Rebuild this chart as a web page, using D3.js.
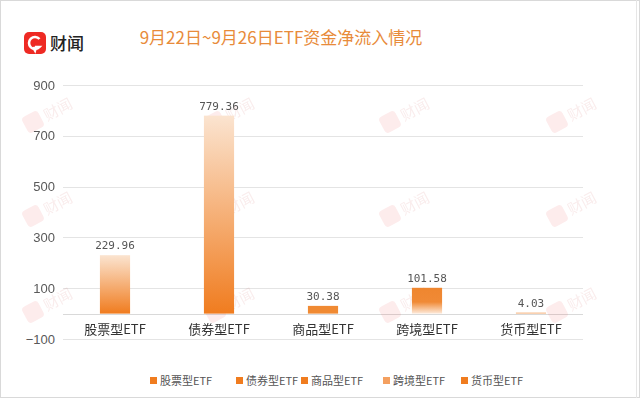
<!DOCTYPE html>
<html>
<head>
<meta charset="utf-8">
<script src="https://cdn.jsdelivr.net/npm/d3@7"></script>
<style>
  body { margin: 0; background: #fff; }
  svg { display: block; }
</style>
</head>
<body>
<div id="chart"></div>
<script>
const title = '9月22日~9月26日ETF资金净流入情况'
const categories = ['股票型ETF', '债券型ETF', '商品型ETF', '跨境型ETF', '货币型ETF']
const values = [229.96, 779.36, 30.38, 101.58, 4.03]
const labels = ['229.96', '779.36', '30.38', '101.58', '4.03']
const yTicks = [-100, 100, 300, 500, 700, 900]

const W = 640, H = 398
const svg = d3.select('#chart').append('svg').attr('width', W).attr('height', H)

// gradients: light top -> orange bottom, and the reversed one for 跨境型
const defs = svg.append('defs')
const gUp = defs.append('linearGradient').attr('id', 'gUp').attr('x1', 0).attr('y1', 0).attr('x2', 0).attr('y2', 1)
gUp.append('stop').attr('offset', '0%').attr('stop-color', '#fbe4d0')
gUp.append('stop').attr('offset', '100%').attr('stop-color', '#f07c1f')
const gDown = defs.append('linearGradient').attr('id', 'gDown').attr('x1', 0).attr('y1', 0).attr('x2', 0).attr('y2', 1)
gDown.append('stop').attr('offset', '0%').attr('stop-color', '#ef862f')
gDown.append('stop').attr('offset', '55%').attr('stop-color', '#f08a36')
gDown.append('stop').attr('offset', '100%').attr('stop-color', '#fde9d9')
const fills = ['url(#gUp)', 'url(#gUp)', '#f08a33', 'url(#gDown)', '#f6b47e']

// frame
svg.append('rect').attr('x', 0.5).attr('y', 0.5).attr('width', W - 1).attr('height', H - 1)
  .attr('fill', 'none').attr('stroke', '#d9d9d9')
svg.append('line').attr('x1', 636.5).attr('x2', 636.5).attr('y1', 0).attr('y2', H)
  .attr('stroke', '#e6e6e6')

// logo
const logo = svg.append('g').attr('transform', 'translate(24,32)')
logo.append('rect').attr('width', 22).attr('height', 22).attr('rx', 5).attr('fill', '#ee2a24')
logo.append('path').attr('d', 'M15.5,7 A6,6 0 1 0 15.5,15 L12,15 L11,18.5 L9,15.2')
  .attr('fill', 'none').attr('stroke', '#fff').attr('stroke-width', 2.6)
svg.append('text').attr('x', 50).attr('y', 50).attr('font-size', 17)
  .attr('font-family', 'Noto Sans CJK SC').attr('font-weight', 500).attr('fill', '#222').text('财闻')

// title
svg.append('text').attr('x', 281).attr('y', 44).attr('text-anchor', 'middle')
  .attr('font-size', 17).attr('font-family', 'Noto Sans CJK SC').attr('fill', '#e88b3a')
  .text(title)

const x = d3.scaleBand().domain(categories).range([63, 583]).paddingInner(0.71).paddingOuter(0.355)
const y = d3.scaleLinear().domain([-100, 900]).range([339, 85])

// grid
svg.append('g').selectAll('line').data(yTicks.concat([0])).join('line')
  .attr('x1', 63).attr('x2', 583)
  .attr('y1', d => Math.round(y(d)) + 0.5).attr('y2', d => Math.round(y(d)) + 0.5)
  .attr('stroke', d => d === 0 ? '#d9d9d9' : '#e4e4e4')

// watermarks
const wmX = [48, 230, 405, 572]
const wmY = [114, 208, 304]
const wm = svg.append('g').attr('opacity', 0.09)
wmX.forEach(wx => wmY.forEach(wy => {
  const g = wm.append('g').attr('transform', `translate(${wx},${wy}) rotate(-28)`)
  g.append('rect').attr('x', -26).attr('y', -9).attr('width', 18).attr('height', 18).attr('rx', 4).attr('fill', '#e8262a')
  g.append('text').attr('x', -4).attr('y', 6).attr('font-size', 15)
    .attr('font-family', 'Noto Sans CJK SC').attr('fill', '#c03030').text('财闻')
}))

// y axis
const yAxis = d3.axisLeft(y).tickValues(yTicks).tickSize(0).tickPadding(8)
  .tickFormat(d => d < 0 ? '\u2212' + Math.abs(d) : d)
svg.append('g').attr('transform', 'translate(63,0)').call(yAxis)
  .call(g => g.select('.domain').remove())
  .selectAll('text').attr('font-size', 13).attr('font-family', 'Liberation Sans').attr('fill', '#595959')

// bars
svg.append('g').selectAll('rect').data(values).join('rect')
  .attr('x', (d, i) => x(categories[i]))
  .attr('width', x.bandwidth())
  .attr('y', d => y(d))
  .attr('height', d => Math.max(1, y(0) - y(d)))
  .attr('fill', (d, i) => fills[i])

// value labels
svg.append('g').selectAll('text').data(values).join('text')
  .attr('x', (d, i) => x(categories[i]) + x.bandwidth() / 2)
  .attr('y', d => y(d) - 6)
  .attr('text-anchor', 'middle').attr('font-size', 11)
  .attr('font-family', 'DejaVu Sans Mono').attr('fill', '#555')
  .text((d, i) => labels[i])

// category labels
svg.append('g').selectAll('text').data(categories).join('text')
  .attr('x', d => x(d) + x.bandwidth() / 2)
  .attr('y', 334)
  .attr('text-anchor', 'middle').attr('font-size', 13)
  .attr('font-family', 'Noto Sans CJK SC').attr('fill', '#333')
  .text(d => d)

// legend
const legendX = [150, 236, 301, 383, 461]
const legendFills = ['#f07c1f', '#f07c1f', '#f07c1f', '#f4a060', '#f07c1f']
const leg = svg.append('g').selectAll('g').data(categories).join('g')
  .attr('transform', (d, i) => `translate(${legendX[i]},381)`)
leg.append('rect').attr('x', 0).attr('y', -4).attr('width', 7).attr('height', 7)
  .attr('fill', (d, i) => legendFills[i])
leg.append('text').attr('x', 10).attr('y', 4).attr('font-size', 11)
  .attr('font-family', 'Noto Sans CJK SC').attr('fill', '#555').text(d => d)
</script>
</body>
</html>
